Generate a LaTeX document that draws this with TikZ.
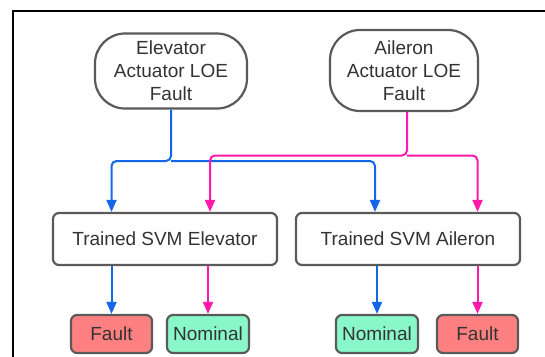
\documentclass[tikz,border=0pt]{standalone}
\usepackage{fontspec}
\setmainfont{Liberation Sans}
\usetikzlibrary{arrows.meta}
\definecolor{bluec}{HTML}{1366E8}
\definecolor{pinkc}{HTML}{FF1AAC}
\definecolor{faultc}{HTML}{FF8080}
\definecolor{nomc}{HTML}{8AF7C9}
\definecolor{edgec}{HTML}{5A5A5A}
\definecolor{txtc}{HTML}{333333}
\tikzset{
  boxbase/.style={draw=edgec, line width=2.2pt, text=txtc, inner sep=0pt,
    font=\fontsize{19}{23}\selectfont, align=center},
  pill/.style={boxbase, rounded corners=30pt, fill=white},
  svmbox/.style={boxbase, rounded corners=6pt, fill=white, minimum width=224pt, minimum height=52pt},
  faultbox/.style={boxbase, rounded corners=6pt, fill=faultc, minimum width=81pt, minimum height=38pt},
  nombox/.style={boxbase, rounded corners=6pt, fill=nomc, minimum width=82pt, minimum height=38pt},
  conn/.style={line width=2pt, rounded corners=5pt, -{Triangle[length=12pt,width=10pt]}},
  bline/.style={conn, draw=bluec},
  pline/.style={conn, draw=pinkc},
}
\begin{document}
\begin{tikzpicture}[x=1pt,y=-1pt]
\useasboundingbox (0,0) rectangle (545,356);
\clip (0,0) rectangle (545,356);
\fill[white] (0,0) rectangle (545,356);
\draw[line width=2pt, black] (13,11) rectangle (620,420);

\node[pill, minimum width=152pt, minimum height=75pt] (elev) at (171,71) {Elevator\\Actuator LOE\\Fault};
\node[pill, minimum width=148pt, minimum height=81pt] (ail) at (404,70.5) {Aileron\\Actuator LOE\\Fault};

\node[svmbox] (svmE) at (165,239) {Trained SVM Elevator};
\node[svmbox] (svmA) at (408,239) {Trained SVM Aileron};

\node[faultbox] (faultL) at (111.5,334) {Fault};
\node[nombox] (nomL) at (208,334) {Nominal};
\node[nombox] (nomR) at (377,334) {Nominal};
\node[faultbox] (faultR) at (477.5,334) {Fault};

\coordinate (hb) at (171,161);
\coordinate (hp) at (407,155.5);
\coordinate (px1) at (210,0);
\coordinate (bx2) at (375,0);

\draw[bline] (elev.south) -- (hb) -| (svmE.north -| faultL.north);
\draw[bline] (hb) -| (svmA.north -| bx2);
\draw[pline] ([xshift=3pt]ail.south) -- (hp) -| (svmE.north -| px1);
\draw[pline] (hp) -| (svmA.north -| faultR.north);

\draw[bline] (svmE.south -| faultL.north) -- (faultL.north);
\draw[pline] (svmE.south -| nomL.north) -- (nomL.north);
\draw[bline] (svmA.south -| nomR.north) -- (nomR.north);
\draw[pline] (svmA.south -| faultR.north) -- (faultR.north);
\end{tikzpicture}
\end{document}
